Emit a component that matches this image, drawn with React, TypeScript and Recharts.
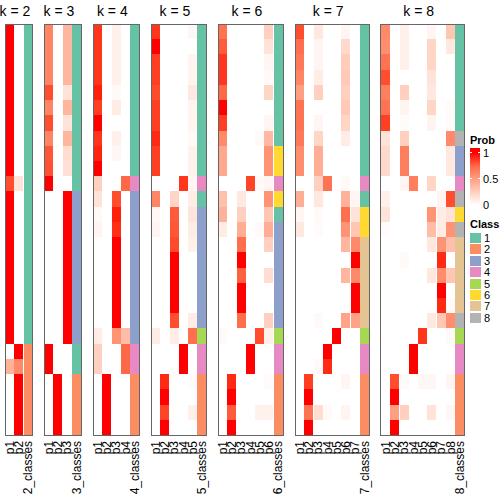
import React from "react";
import { BarChart, Bar, Cell, XAxis, YAxis } from "recharts";

// membership probabilities per k, one row per sample (27 samples, top to bottom)
const probs2 = [
  [1, 0], [1, 0], [1, 0], [1, 0], [1, 0], [1, 0], [1, 0], [1, 0], [1, 0], [1, 0],
  [0.85, 0.15], [1, 0], [1, 0], [1, 0], [1, 0], [1, 0], [1, 0], [1, 0], [1, 0], [1, 0],
  [1, 0], [0, 1], [0.4, 0.6], [0, 1], [0, 1], [0, 1], [0, 1],
];
const classes2 = [1, 1, 1, 1, 1, 1, 1, 1, 1, 1, 1, 1, 1, 1, 1, 1, 1, 1, 1, 1, 1, 2, 2, 2, 2, 2, 2];

const probs3 = [
  [0.62, 0, 0.38], [0.62, 0, 0.38], [0.62, 0, 0.38], [0.62, 0, 0.38], [0.85, 0, 0.15],
  [0.62, 0, 0.38], [0.85, 0, 0.15], [0.62, 0, 0.38], [0.82, 0, 0.18], [0.84, 0, 0.16],
  [1, 0, 0], [0, 0, 1], [0, 0, 1], [0, 0, 1], [0, 0, 1], [0, 0, 1], [0, 0, 1], [0, 0, 1],
  [0, 0, 1], [0, 0, 1], [0, 0, 1], [1, 0, 0], [1, 0, 0], [0, 1, 0], [0, 1, 0], [0, 1, 0], [0, 1, 0],
];
const classes3 = [1, 1, 1, 1, 1, 1, 1, 1, 1, 1, 1, 3, 3, 3, 3, 3, 3, 3, 3, 3, 3, 1, 1, 2, 2, 2, 2];

const probs4 = [
  [0.92, 0, 0.08, 0], [0.92, 0, 0.08, 0], [0.92, 0, 0.08, 0], [0.92, 0, 0.08, 0],
  [0.97, 0, 0.03, 0], [0.9, 0, 0.1, 0], [1, 0, 0, 0], [0.92, 0, 0.08, 0], [0.96, 0, 0.04, 0],
  [1, 0, 0, 0], [0.25, 0, 0, 0.75], [0.15, 0, 0.85, 0], [0.03, 0, 0.97, 0], [0.06, 0, 0.94, 0],
  [0, 0, 1, 0], [0, 0, 1, 0], [0, 0, 1, 0], [0, 0, 1, 0], [0, 0, 1, 0], [0, 0, 1, 0],
  [0.1, 0, 0.55, 0.35], [0.25, 0, 0, 0.75], [0.25, 0, 0, 0.75],
  [0, 1, 0, 0], [0, 1, 0, 0], [0, 1, 0, 0], [0, 1, 0, 0],
];
const classes4 = [1, 1, 1, 1, 1, 1, 1, 1, 1, 1, 4, 3, 3, 3, 3, 3, 3, 3, 3, 3, 3, 4, 4, 2, 2, 2, 2];

const probs5 = [
  [0.92, 0, 0, 0, 0.04], [1, 0, 0, 0, 0], [0.9, 0, 0, 0, 0.06], [0.9, 0, 0, 0, 0.06],
  [0.86, 0, 0, 0, 0.12], [0.9, 0, 0, 0, 0.06], [0.9, 0, 0, 0, 0.06], [0.95, 0, 0, 0, 0.03],
  [0.9, 0, 0, 0, 0.07], [0.9, 0, 0, 0, 0.07], [0, 0, 0, 0.92, 0.05], [0.62, 0, 0.22, 0, 0.1],
  [0.04, 0, 0.8, 0, 0.14], [0.06, 0, 0.82, 0, 0.1], [0, 0, 0.86, 0, 0.08], [0, 0, 1, 0, 0],
  [0, 0, 1, 0, 0], [0, 0, 1, 0, 0], [0, 0, 1, 0, 0], [0, 0, 0.85, 0, 0.1],
  [0.1, 0, 0.1, 0, 0.72], [0, 0, 0, 1, 0], [0, 0, 0, 1, 0],
  [0, 0.95, 0, 0, 0.02], [0, 1, 0, 0, 0], [0, 0.88, 0, 0, 0.08], [0, 1, 0, 0, 0],
];
const classes5 = [1, 1, 1, 1, 1, 1, 1, 1, 1, 1, 4, 1, 3, 3, 3, 3, 3, 3, 3, 3, 5, 4, 4, 2, 2, 2, 2];

const probs6 = [
  [0.7, 0, 0, 0, 0, 0.25], [0.8, 0, 0, 0, 0, 0.15], [0.92, 0, 0, 0, 0, 0.05],
  [0.92, 0, 0, 0, 0, 0.03], [0.75, 0, 0, 0, 0, 0.22], [1, 0, 0, 0, 0, 0],
  [0.9, 0, 0, 0, 0, 0.05], [0.6, 0, 0, 0, 0.03, 0.37], [0.45, 0, 0, 0, 0, 0.55],
  [0.45, 0, 0, 0, 0, 0.55], [0, 0, 0, 0.88, 0.03, 0.05], [0.33, 0, 0.12, 0, 0, 0.55],
  [0.4, 0, 0.25, 0, 0, 0.3], [0.1, 0, 0.42, 0, 0.03, 0.42], [0, 0, 0.72, 0, 0, 0.25],
  [0, 0, 1, 0, 0, 0], [0, 0, 0.78, 0, 0, 0.18], [0, 0, 1, 0, 0, 0], [0, 0, 1, 0, 0, 0],
  [0, 0, 0.72, 0, 0, 0.25], [0.03, 0, 0, 0, 0.85, 0.08], [0, 0, 0, 1, 0, 0], [0, 0, 0, 1, 0, 0],
  [0, 0.95, 0, 0, 0, 0.02], [0, 1, 0, 0, 0, 0], [0, 0.8, 0, 0, 0.07, 0.07], [0, 1, 0, 0, 0, 0],
];
const classes6 = [1, 1, 1, 1, 1, 1, 1, 1, 6, 6, 4, 6, 1, 3, 3, 3, 3, 3, 3, 3, 5, 4, 4, 2, 2, 2, 2];

const probs7 = [
  [0.85, 0, 0.12, 0, 0, 0.05, 0], [0.72, 0, 0.05, 0, 0, 0.2, 0], [0.68, 0, 0.05, 0, 0, 0.26, 0],
  [0.62, 0, 0.1, 0, 0, 0.28, 0], [0.5, 0, 0.25, 0, 0, 0.25, 0], [0.7, 0, 0, 0, 0, 0.28, 0],
  [0.7, 0, 0.05, 0, 0, 0.22, 0], [0.68, 0, 0.22, 0, 0, 0.1, 0], [0.58, 0, 0.42, 0, 0, 0, 0],
  [0.58, 0, 0.42, 0, 0, 0, 0], [0, 0, 0.25, 0.7, 0, 0.03, 0], [0.42, 0, 0.12, 0, 0, 0.4, 0.05],
  [0.05, 0, 0.03, 0, 0, 0.72, 0.15], [0.12, 0, 0.02, 0, 0, 0.55, 0.3], [0, 0, 0, 0, 0, 0.38, 0.6],
  [0, 0, 0, 0, 0, 0, 1], [0, 0, 0, 0, 0, 0.38, 0.6], [0, 0, 0, 0, 0, 0, 1], [0, 0, 0, 0, 0, 0, 1],
  [0, 0, 0.03, 0, 0, 0.47, 0.48], [0, 0, 0, 0, 1, 0, 0], [0, 0, 0, 1, 0, 0, 0],
  [0, 0, 0.03, 0.95, 0, 0, 0], [0, 0.9, 0, 0, 0, 0.05, 0], [0, 1, 0, 0, 0, 0, 0],
  [0, 0.7, 0.18, 0.03, 0, 0.06, 0], [0, 1, 0, 0, 0, 0, 0],
];
const classes7 = [1, 1, 1, 1, 1, 1, 1, 1, 1, 1, 4, 1, 6, 6, 7, 7, 7, 7, 7, 7, 5, 4, 4, 2, 2, 2, 2];

const probs8 = [
  [0.6, 0, 0.08, 0, 0, 0.05, 0, 0.3], [0.58, 0, 0.08, 0, 0, 0.22, 0, 0.12],
  [0.7, 0, 0.08, 0, 0, 0.22, 0, 0], [0.85, 0, 0, 0, 0, 0.15, 0, 0],
  [0.65, 0, 0.25, 0, 0, 0.12, 0, 0], [0.7, 0, 0.06, 0, 0, 0.22, 0, 0.02],
  [0.9, 0, 0.02, 0, 0, 0.06, 0, 0.02], [0.15, 0, 0.25, 0, 0, 0, 0, 0.6],
  [0.2, 0, 0.65, 0, 0, 0, 0, 0.12], [0.2, 0, 0.65, 0, 0, 0, 0, 0.12],
  [0, 0, 0.05, 0.65, 0, 0.22, 0, 0], [0.08, 0, 0, 0, 0, 0, 0.06, 0.85],
  [0.15, 0, 0, 0, 0, 0.55, 0.1, 0.15], [0.02, 0, 0, 0, 0, 0.35, 0.1, 0.55],
  [0, 0, 0, 0, 0, 0.12, 0.55, 0.33], [0, 0, 0.03, 0, 0, 0, 0.95, 0],
  [0, 0, 0, 0, 0, 0.12, 0.58, 0.3], [0, 0, 0, 0, 0, 0, 1, 0], [0, 0, 0, 0, 0, 0, 0.95, 0.03],
  [0, 0, 0, 0, 0, 0.12, 0.3, 0.58], [0, 0, 0, 0, 0.92, 0, 0, 0.03], [0, 0, 0, 1, 0, 0, 0, 0],
  [0, 0, 0, 1, 0, 0, 0, 0], [0, 0.85, 0.03, 0, 0.04, 0.04, 0, 0.05], [0, 1, 0, 0, 0, 0, 0, 0],
  [0, 0.5, 0.25, 0, 0, 0.15, 0, 0.04], [0, 1, 0, 0, 0, 0, 0, 0],
];
const classes8 = [1, 1, 1, 1, 1, 1, 1, 8, 3, 3, 4, 8, 6, 8, 7, 7, 7, 7, 7, 8, 5, 4, 4, 2, 2, 2, 2];

const panelKs = [2, 3, 4, 5, 6, 7, 8];
const panelProbs = [probs2, probs3, probs4, probs5, probs6, probs7, probs8];
const panelClasses = [classes2, classes3, classes4, classes5, classes6, classes7, classes8];

const classColors = ["#66C2A5", "#FC8D62", "#8DA0CB", "#E78AC3", "#A6D854", "#FFD92F", "#E5C494", "#B3B3B3"];
const classLabels = ["1", "2", "3", "4", "5", "6", "7", "8"];
const probTicks = [1, 0.5, 0];

const FONT = "'Liberation Sans', Arial, sans-serif";
const COL_W = 9.3;
const GAP = 11.5;
const LEFT0 = 5;
const TOP = 24;
const AXIS_H = 69;
const H = 504;

// white -> red in LAB space, like colorRamp2
const labRed = [53.24, 80.09, 67.2];
function probColor(v: number) {
  const L = 100 + (labRed[0] - 100) * v;
  const a = labRed[1] * v;
  const b = labRed[2] * v;
  const fy = (L + 16) / 116;
  const fx = fy + a / 500;
  const fz = fy - b / 200;
  const finv = (t: number) => (t ** 3 > 0.008856 ? t ** 3 : (t - 16 / 116) / 7.787);
  const X = 0.95047 * finv(fx);
  const Y = finv(fy);
  const Z = 1.08883 * finv(fz);
  const lin = [
    3.2406 * X - 1.5372 * Y - 0.4986 * Z,
    -0.9689 * X + 1.8758 * Y + 0.0415 * Z,
    0.0557 * X - 0.204 * Y + 1.057 * Z,
  ];
  const out = lin.map((c) => {
    const g = c <= 0.0031308 ? 12.92 * c : 1.055 * Math.pow(c, 1 / 2.4) - 0.055;
    return Math.round(Math.max(0, Math.min(1, g)) * 255);
  });
  return `rgb(${out[0]},${out[1]},${out[2]})`;
}

const ColTick = (props: any) => {
  const { x, y, payload } = props;
  return (
    <text
      x={x}
      y={y}
      transform={`rotate(-90 ${x} ${y})`}
      textAnchor="end"
      dominantBaseline="central"
      fontSize={12}
      fontFamily={FONT}
      fill="#000"
    >
      {payload.value}
    </text>
  );
};

function HeatPanel({ k, probs, classes, left }: { k: number; probs: number[][]; classes: number[]; left: number }) {
  const cols = [...Array.from({ length: k }, (_, i) => `p${i + 1}`), `${k}_classes`];
  const data = cols.map((col) => {
    const d: Record<string, any> = { col };
    probs.forEach((_, r) => {
      d[`r${r}`] = 1;
    });
    return d;
  });
  const w = cols.length * COL_W;
  const rowIdx = probs.map((_, r) => r).reverse();
  return (
    <div className="heat" style={{ position: "absolute", left, top: 0 }}>
      <div
        style={{
          position: "absolute",
          left: w / 2 - 4 - 30,
          width: 60,
          top: 0,
          textAlign: "center",
          fontSize: 14,
          lineHeight: "22px",
        }}
      >
        k = {k}
      </div>
      <BarChart
        width={w}
        height={H}
        data={data}
        margin={{ top: TOP, right: 0, bottom: 0, left: 0 }}
        barCategoryGap={0}
        barGap={0}
      >
        <XAxis
          dataKey="col"
          interval={0}
          height={AXIS_H}
          tickLine={false}
          axisLine={false}
          tickSize={0}
          tickMargin={6}
          tick={<ColTick />}
        />
        <YAxis hide type="number" domain={[0, probs.length]} allowDataOverflow />
        {rowIdx.map((r) => (
          <Bar key={r} dataKey={`r${r}`} stackId="s" isAnimationActive={false}>
            {cols.map((c, ci) => (
              <Cell key={c} fill={ci < k ? probColor(probs[r][ci]) : classColors[classes[r] - 1]} />
            ))}
          </Bar>
        ))}
      </BarChart>
      {/* heatmap frame */}
      <div
        style={{
          position: "absolute",
          left: -0.5,
          top: TOP - 0.5,
          width: w + 1,
          height: H - TOP - AXIS_H + 1,
          boxSizing: "border-box",
          border: "1px solid #666",
          pointerEvents: "none",
        }}
      />
    </div>
  );
}

export default function App() {
  let x = LEFT0;
  const lefts = panelKs.map((k) => {
    const l = x;
    x += (k + 1) * COL_W + GAP;
    return l;
  });
  const barTop = 148;
  const barBottom = 205;
  const oneY = 152.7;
  const valY = (v: number) => barBottom - v * (barBottom - oneY);
  const stops = [1, 0.75, 0.5, 0.25, 0]
    .map((v) => `${probColor(v)} ${(((valY(v) - barTop) / (barBottom - barTop)) * 100).toFixed(1)}%`)
    .join(", ");
  return (
    <div
      style={{
        position: "absolute",
        left: 0,
        top: 0,
        width: 504,
        height: 504,
        background: "#fff",
        fontFamily: FONT,
        color: "#000",
      }}
    >
      <style>{`.heat svg { overflow: visible; } .heat path { shape-rendering: crispEdges; }`}</style>
      {panelKs.map((k, i) => (
        <HeatPanel key={k} k={k} probs={panelProbs[i]} classes={panelClasses[i]} left={lefts[i]} />
      ))}
      <div style={{ position: "absolute", left: 470, top: 133, fontSize: 11, fontWeight: "bold", lineHeight: "14px" }}>
        Prob
      </div>
      <div
        style={{
          position: "absolute",
          left: 470,
          top: barTop,
          width: 10,
          height: barBottom - barTop,
          background: `linear-gradient(to bottom, ${probColor(1)} 0%, ${stops})`,
        }}
      />
      {probTicks.map((t) => (
        <React.Fragment key={t}>
          <div style={{ position: "absolute", left: 470, top: valY(t) - 0.5, width: 2, height: 1, background: "#fff" }} />
          <div style={{ position: "absolute", left: 478, top: valY(t) - 0.5, width: 2, height: 1, background: "#fff" }} />
          <div style={{ position: "absolute", left: 483, top: valY(t) - 7, fontSize: 11, lineHeight: "14px" }}>{t}</div>
        </React.Fragment>
      ))}
      <div style={{ position: "absolute", left: 470, top: 217, fontSize: 11, fontWeight: "bold", lineHeight: "14px" }}>
        Class
      </div>
      {classLabels.map((lab, i) => (
        <React.Fragment key={lab}>
          <div
            style={{
              position: "absolute",
              left: 470,
              top: 233 + i * 11.4,
              width: 10.5,
              height: 10,
              background: classColors[i],
            }}
          />
          <div style={{ position: "absolute", left: 484, top: 231 + i * 11.4, fontSize: 11, lineHeight: "14px" }}>
            {lab}
          </div>
        </React.Fragment>
      ))}
    </div>
  );
}
